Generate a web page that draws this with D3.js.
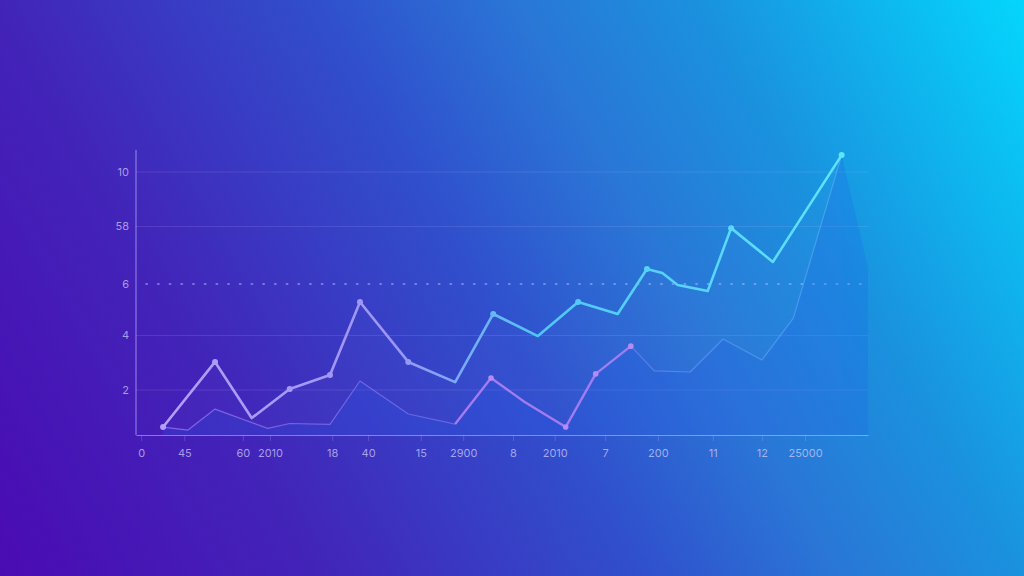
<!DOCTYPE html>
<html>
<head>
<meta charset="utf-8">
<script src="https://cdn.jsdelivr.net/npm/d3@7/dist/d3.min.js"></script>
<style>
  html, body { margin: 0; padding: 0; overflow: hidden; background: #2a50cc; }
  svg { display: block; }
</style>
</head>
<body>
<svg id="chart" width="1024" height="576"></svg>
<script>
// ---- data ----
const mainX = [3.7, 10.8, 15.8, 21.0, 26.5, 30.6, 37.2, 43.6, 48.8, 54.9, 60.4, 65.8, 69.8, 71.9, 74.0, 78.1, 81.3, 87.0, 96.4];
const mainY = [0.64, 3.03, 0.97, 2.04, 2.55, 5.23, 3.03, 2.29, 4.79, 3.98, 5.23, 4.79, 6.44, 6.29, 5.85, 5.63, 7.94, 6.70, 10.62];
const mainMarked = [1, 1, 0, 1, 1, 1, 1, 0, 1, 0, 1, 0, 1, 0, 0, 0, 1, 0, 1];

const lowX = [3.7, 7.1, 10.8, 18.0, 21.0, 26.5, 30.6, 37.2, 43.6, 48.5, 53.1, 58.7, 62.8, 67.6, 70.8, 75.7, 80.2, 85.5, 89.8, 96.4, 100];
const lowY = [0.64, 0.53, 1.30, 0.59, 0.77, 0.74, 2.33, 1.12, 0.75, 2.44, 1.56, 0.64, 2.59, 3.61, 2.70, 2.66, 3.87, 3.10, 4.64, 10.62, 6.48];
const lowHighlight = [8, 13];          // index range drawn as the thicker purple segment
const lowMarked = [9, 11, 12, 13];

const yTickValues = [10, 8, 6, 4, 2];
const yTickLabels = ["10", "58", "6", "4", "2"];
const dottedTick = 6;

const xTickPos = [0.7, 6.6, 14.6, 18.3, 26.8, 31.7, 38.9, 44.7, 51.5, 57.2, 64.1, 71.3, 78.8, 85.5, 91.4];
const xTickLabels = ["0", "45", "60", "2010", "18", "40", "15", "2900", "8", "2010", "7", "200", "11", "12", "25000"];

// ---- setup ----
const W = 1024, H = 576;
const svg = d3.select("#chart");
const defs = svg.append("defs");

const bg = defs.append("linearGradient").attr("id", "bg")
  .attr("gradientUnits", "userSpaceOnUse")
  .attr("x1", 0).attr("y1", H).attr("x2", W).attr("y2", 0);
[[0, "#4a0bb3"], [0.24, "#4224b9"], [0.48, "#3050cd"], [0.62, "#2a76d6"], [0.76, "#1a92de"], [1, "#04d6fd"]]
  .forEach(([o, c]) => bg.append("stop").attr("offset", o).attr("stop-color", c));
svg.append("rect").attr("width", W).attr("height", H).attr("fill", "url(#bg)");

const x = d3.scaleLinear().domain([0, 100]).range([136, 868]);
const y = d3.scaleLinear().domain([2, 10]).range([390, 172]);
const axisY = 435;

const lineGrad = defs.append("linearGradient").attr("id", "lineGrad")
  .attr("gradientUnits", "userSpaceOnUse")
  .attr("x1", x(0)).attr("y1", 0).attr("x2", x(100)).attr("y2", 0);
[[0, "#b4a0fa"], [0.35, "#9d94f4"], [0.55, "#4fc6f7"], [1, "#5fe6ff"]]
  .forEach(([o, c]) => lineGrad.append("stop").attr("offset", o).attr("stop-color", c));

const thinGrad = defs.append("linearGradient").attr("id", "thinGrad")
  .attr("gradientUnits", "userSpaceOnUse")
  .attr("x1", x(0)).attr("y1", 0).attr("x2", x(100)).attr("y2", 0);
[[0, "rgba(175,140,255,0.6)"], [0.5, "rgba(150,140,255,0.45)"], [1, "rgba(110,190,255,0.45)"]]
  .forEach(([o, c]) => thinGrad.append("stop").attr("offset", o).attr("stop-color", c));

// ---- gridlines ----
const grid = svg.append("g");
yTickValues.forEach(v => {
  const dotted = v === dottedTick;
  grid.append("line")
    .attr("x1", dotted ? x(1.4) : x(0)).attr("x2", x(100))
    .attr("y1", y(v) + (dotted ? 3 : 0)).attr("y2", y(v) + (dotted ? 3 : 0))
    .attr("stroke", dotted ? "rgba(200,200,255,0.45)" : "rgba(200,190,255,0.15)")
    .attr("stroke-width", dotted ? 2.2 : 1)
    .attr("stroke-linecap", dotted ? "round" : "butt")
    .attr("stroke-dasharray", dotted ? "0.8,10.9" : null);
});

// ---- areas ----
const lowPts = lowX.map((d, i) => [d, lowY[i]]);
const mainPts = mainX.map((d, i) => [d, mainY[i]]);

const area = d3.area().x(d => x(d[0])).y0(axisY).y1(d => y(d[1]));
svg.append("path").datum(mainPts).attr("d", area)
  .attr("fill", "rgba(120,150,255,0.04)");
svg.append("path").datum(lowPts).attr("d", area)
  .attr("fill", "rgba(30,90,235,0.2)");

// ---- lines ----
const line = d3.line().x(d => x(d[0])).y(d => y(d[1]));

// thin lower line (without the final area-only point)
svg.append("path").datum(lowPts.slice(0, lowPts.length - 1)).attr("d", line)
  .attr("fill", "none").attr("stroke", "url(#thinGrad)").attr("stroke-width", 1.2)
  .attr("stroke-linejoin", "round");

// highlighted lower segment
svg.append("path").datum(lowPts.slice(lowHighlight[0], lowHighlight[1] + 1)).attr("d", line)
  .attr("fill", "none").attr("stroke", "#a67cf2").attr("stroke-width", 2.4)
  .attr("stroke-linejoin", "round").attr("opacity", 0.95);
svg.append("g").selectAll("circle").data(lowMarked).join("circle")
  .attr("cx", i => x(lowX[i])).attr("cy", i => y(lowY[i])).attr("r", 2.8)
  .attr("fill", "#b48af5");

// main line
svg.append("path").datum(mainPts).attr("d", line)
  .attr("fill", "none").attr("stroke", "url(#lineGrad)").attr("stroke-width", 2.6)
  .attr("stroke-linejoin", "round").attr("stroke-linecap", "round");
svg.append("g").selectAll("circle").data(mainPts.filter((d, i) => mainMarked[i])).join("circle")
  .attr("cx", d => x(d[0])).attr("cy", d => y(d[1])).attr("r", 3)
  .attr("fill", "url(#lineGrad)");

// ---- axes ----
const xAxis = d3.axisBottom(x).tickValues(xTickPos).tickFormat((d, i) => xTickLabels[i])
  .tickSize(6).tickSizeOuter(0).tickPadding(8);
const gx = svg.append("g").attr("transform", `translate(0,${axisY})`).call(xAxis);
gx.select(".domain").attr("stroke", "rgba(200,190,255,0.55)").attr("stroke-width", 1.2);
gx.selectAll(".tick line").attr("stroke", "rgba(200,190,255,0.22)");
gx.selectAll(".tick text").attr("fill", "rgba(210,205,250,0.72)")
  .attr("font-family", "Inter, 'Liberation Sans', sans-serif").attr("font-size", 11);

// y axis line
svg.append("line").attr("x1", x(0)).attr("x2", x(0)).attr("y1", 150).attr("y2", axisY)
  .attr("stroke", "rgba(200,190,255,0.55)").attr("stroke-width", 1.2);

svg.append("g").selectAll("text").data(yTickValues).join("text")
  .attr("x", 129).attr("y", v => y(v) + (v === dottedTick ? 3 : 0))
  .attr("dy", "0.35em").attr("text-anchor", "end")
  .attr("fill", "rgba(210,205,250,0.72)")
  .attr("font-family", "Inter, 'Liberation Sans', sans-serif").attr("font-size", 11)
  .text((v, i) => yTickLabels[i]);
</script>
</body>
</html>
